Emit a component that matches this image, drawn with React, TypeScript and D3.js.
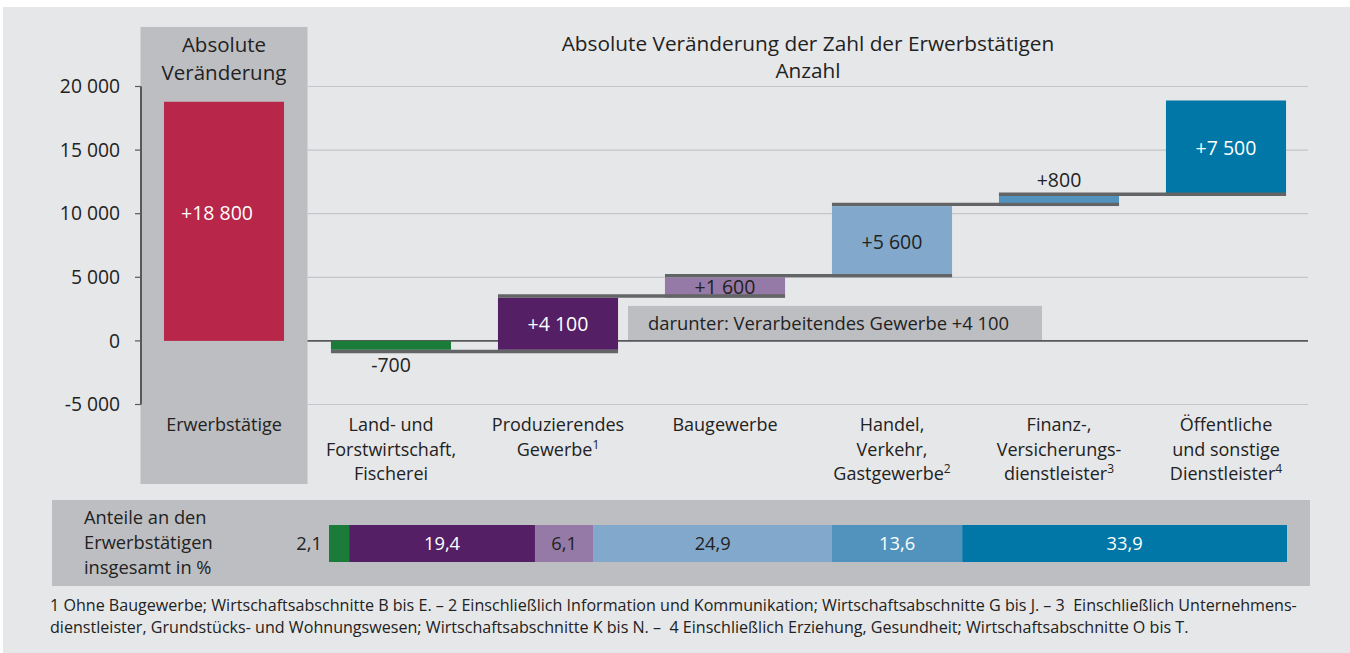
import React from "react";
import * as d3 from "d3";

const TOTAL_CATEGORY = "Erwerbstätige";
const TOTAL_VALUE = 18800;
const CATEGORIES = [
  "Land- und Forstwirtschaft, Fischerei",
  "Produzierendes Gewerbe",
  "Baugewerbe",
  "Handel, Verkehr, Gastgewerbe",
  "Finanz-, Versicherungsdienstleister",
  "Öffentliche und sonstige Dienstleister",
];
const CATEGORY_LINES = [
  ["Land- und", "Forstwirtschaft,", "Fischerei"],
  ["Produzierendes", "Gewerbe"],
  ["Baugewerbe"],
  ["Handel,", "Verkehr,", "Gastgewerbe"],
  ["Finanz-,", "Versicherungs-", "dienstleister"],
  ["Öffentliche", "und sonstige", "Dienstleister"],
];
const FOOTNOTE_MARKS = ["", "1", "", "2", "3", "4"];
const CHANGES = [-700, 4100, 1600, 5600, 800, 7500];
const SHARES = [2.1, 19.4, 6.1, 24.9, 13.6, 33.9];
const Y_TICKS = [-5000, 0, 5000, 10000, 15000, 20000];
const SUBSET_NOTE = "darunter: Verarbeitendes Gewerbe";
const SUBSET_VALUE = 4100;
const TITLE_LINES = ["Absolute Veränderung der Zahl der Erwerbstätigen", "Anzahl"];
const TOTAL_TITLE = ["Absolute", "Veränderung"];
const SHARE_TITLE = ["Anteile an den", "Erwerbstätigen", "insgesamt in %"];
const FOOTNOTES = [
  "1 Ohne Baugewerbe; Wirtschaftsabschnitte B bis E. – 2 Einschließlich Information und Kommunikation; Wirtschaftsabschnitte G bis J. – 3  Einschließlich Unternehmens-",
  "dienstleister, Grundstücks- und Wohnungswesen; Wirtschaftsabschnitte K bis N. –  4 Einschließlich Erziehung, Gesundheit; Wirtschaftsabschnitte O bis T.",
];

const COLORS = ["#1b7c3a", "#551f66", "#9579a6", "#82a9cb", "#5193bc", "#0077a6"];
const LABEL_COLORS = ["#222", "#fff", "#222", "#222", "#222", "#fff"];
const SHARE_LABEL_COLORS = ["#222", "#fff", "#222", "#222", "#fff", "#fff"];
const LABEL_POS = ["below", "inside", "inside", "inside", "above", "inside"];

const locale = d3.formatLocale({
  decimal: ",",
  thousands: " ",
  grouping: [3],
  currency: ["", " €"],
  minus: "-",
});
const fmtTick = locale.format(",");
const fmtChange = locale.format("+,");
const fmtShare = locale.format(".1f");

const FONT = "'Open Sans', sans-serif";
const TEXT = "#222";
const PANEL = "#bdbec1";

export default function App() {
  const W = 1350;
  const H = 653;
  const allCats = [TOTAL_CATEGORY, ...CATEGORIES];
  const x = d3
    .scaleBand<string>()
    .domain(allCats)
    .range([140.5, 1309.5])
    .paddingInner(0.281)
    .paddingOuter(0.1405);
  const bw = x.bandwidth();
  const step = x.step();
  const y = d3.scaleLinear().domain([-5000, 20000]).range([404.5, 86.5]);

  const starts: number[] = [];
  const ends: number[] = [];
  let acc = 0;
  CHANGES.forEach((c) => {
    starts.push(acc);
    acc += c;
    ends.push(acc);
  });

  const colLeft = (x(TOTAL_CATEGORY) as number) - (step - bw) / 2;
  const colRight = colLeft + step;
  const plotRight = (x(CATEGORIES[5]) as number) + bw + (step - bw) / 2 - 1.5;

  const sx = d3.scaleLinear().domain([0, d3.sum(SHARES)]).range([329, 1287]);
  const shareStarts = d3.cumsum([0, ...SHARES]);

  const noteTop = y(0) - 35;

  return (
    <svg
      width={W}
      height={H}
      style={{ position: "absolute", left: 0, top: 0, fontFamily: FONT }}
    >
      <rect x={3} y={7} width={W - 3} height={H - 7} fill="#e6e7e9" />

      {/* total column panel */}
      <rect x={colLeft} y={27} width={colRight - colLeft} height={457} fill={PANEL} />
      {TOTAL_TITLE.map((t, i) => (
        <text
          key={t}
          x={colLeft + step / 2}
          y={52 + i * 28}
          textAnchor="middle"
          fontSize={20.5}
          fill={TEXT}
        >
          {t}
        </text>
      ))}

      {/* title */}
      {TITLE_LINES.map((t, i) => (
        <text
          key={t}
          x={808}
          y={51 + i * 27}
          textAnchor="middle"
          fontSize={20.8}
          fill={TEXT}
        >
          {t}
        </text>
      ))}

      {/* gridlines */}
      {Y_TICKS.filter((t) => t !== 0).map((t) => (
        <line
          key={t}
          x1={colRight}
          x2={plotRight}
          y1={y(t)}
          y2={y(t)}
          stroke="#c4c5c8"
          strokeWidth={1.2}
        />
      ))}

      {/* y axis */}
      <line x1={141} x2={141} y1={y(20000)} y2={y(-5000)} stroke="#58595b" strokeWidth={2} />
      {Y_TICKS.map((t) => (
        <g key={t}>
          <line x1={135} x2={141} y1={y(t)} y2={y(t)} stroke="#58595b" strokeWidth={1.2} />
          <text
            x={120}
            y={y(t)}
            dy="0.35em"
            textAnchor="end"
            fontSize={19.3}
            fill={TEXT}
          >
            {fmtTick(t)}
          </text>
        </g>
      ))}

      {/* subset note box */}
      <rect x={628} y={noteTop} width={414} height={y(0) - noteTop} fill={PANEL} />
      <text x={648} y={(y(0) + noteTop) / 2} dy="0.35em" fontSize={18.4} fill={TEXT}>
        {SUBSET_NOTE + " " + fmtChange(SUBSET_VALUE)}
      </text>

      {/* zero line */}
      <line x1={colRight} x2={plotRight} y1={y(0)} y2={y(0)} stroke="#58595b" strokeWidth={1.6} />

      {/* total bar */}
      <rect
        x={x(TOTAL_CATEGORY)}
        y={y(TOTAL_VALUE)}
        width={bw}
        height={y(0) - y(TOTAL_VALUE)}
        fill="#b8264a"
      />
      <text
        x={(x(TOTAL_CATEGORY) as number) + bw / 2 - 7}
        y={(y(TOTAL_VALUE) + y(0)) / 2 - 8}
        dy="0.35em"
        textAnchor="middle"
        fontSize={19.5}
        fill="#fff"
      >
        {fmtChange(TOTAL_VALUE)}
      </text>

      {/* change bars */}
      {CATEGORIES.map((c, i) => {
        const x0 = x(c) as number;
        const top = y(Math.max(starts[i], ends[i]));
        const bot = y(Math.min(starts[i], ends[i]));
        return (
          <rect key={c} x={x0} y={top} width={bw} height={bot - top} fill={COLORS[i]} />
        );
      })}

      {/* connectors */}
      {CATEGORIES.slice(0, -1).map((c, i) => {
        const x0 = x(c) as number;
        const x1 = (x(CATEGORIES[i + 1]) as number) + bw;
        const rising = CHANGES[i] >= 0;
        const yy = y(ends[i]) + (rising ? -1.7 : 1.7);
        return (
          <line key={c} x1={x0} x2={x1} y1={yy} y2={yy} stroke="#636466" strokeWidth={3.4} />
        );
      })}

      {/* value labels */}
      {CATEGORIES.map((c, i) => {
        const cx = (x(c) as number) + bw / 2;
        const top = y(Math.max(starts[i], ends[i]));
        const bot = y(Math.min(starts[i], ends[i]));
        let yy = (top + bot) / 2;
        if (LABEL_POS[i] === "below") yy = bot + 15;
        if (LABEL_POS[i] === "above") yy = top - 16;
        return (
          <text
            key={c}
            x={cx}
            y={yy}
            dy="0.35em"
            textAnchor="middle"
            fontSize={19.5}
            fill={LABEL_COLORS[i]}
          >
            {fmtChange(CHANGES[i])}
          </text>
        );
      })}

      {/* category labels */}
      <text
        x={(x(TOTAL_CATEGORY) as number) + bw / 2}
        y={431}
        textAnchor="middle"
        fontSize={18}
        fill={TEXT}
      >
        {TOTAL_CATEGORY}
      </text>
      {CATEGORIES.map((c, i) => {
        const cx = (x(c) as number) + bw / 2;
        const lines = CATEGORY_LINES[i];
        return (
          <text key={c} x={cx} y={431} textAnchor="middle" fontSize={18} fill={TEXT}>
            {lines.map((l, j) => (
              <tspan key={j} x={cx} dy={j === 0 ? 0 : 24.5}>
                {l}
                {j === lines.length - 1 && FOOTNOTE_MARKS[i] ? (
                  <tspan fontSize={12} dy={-7}>
                    {FOOTNOTE_MARKS[i]}
                  </tspan>
                ) : null}
              </tspan>
            ))}
          </text>
        );
      })}

      {/* share panel */}
      <rect x={52} y={500} width={1258} height={86} fill={PANEL} />
      {SHARE_TITLE.map((t, i) => (
        <text key={t} x={84} y={524 + i * 25} fontSize={18.3} fill={TEXT}>
          {t}
        </text>
      ))}
      {SHARES.map((s, i) => {
        const x0 = sx(shareStarts[i]);
        const x1 = sx(shareStarts[i + 1]);
        const outside = i === 0;
        return (
          <g key={i}>
            <rect x={x0} y={525} width={x1 - x0} height={37} fill={COLORS[i]} />
            <text
              x={outside ? x0 - 7 : (x0 + x1) / 2}
              y={543.5}
              dy="0.35em"
              textAnchor={outside ? "end" : "middle"}
              fontSize={18.3}
              fill={SHARE_LABEL_COLORS[i]}
            >
              {fmtShare(s)}
            </text>
          </g>
        );
      })}

      {/* footnotes */}
      {FOOTNOTES.map((t, i) => (
        <text
          key={i}
          x={50}
          y={611 + i * 22}
          fontSize={16.1}
          fill={TEXT}
          style={{ whiteSpace: "pre" }}
        >
          {t}
        </text>
      ))}
    </svg>
  );
}
